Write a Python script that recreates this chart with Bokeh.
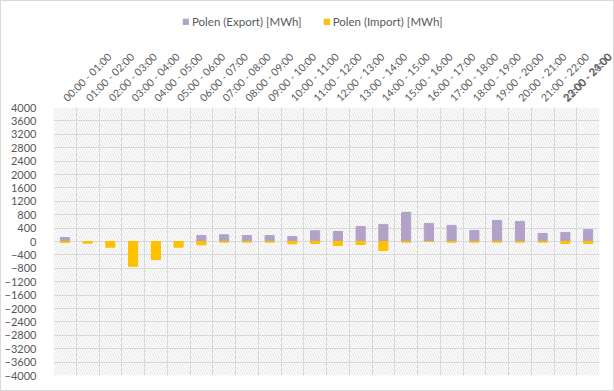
import math
from bokeh.plotting import figure
from bokeh.layouts import column
from bokeh.models import (ColumnDataSource, Range1d, FixedTicker, BoxAnnotation,
                          Legend, LegendItem)
from bokeh.embed import file_html
from bokeh.resources import INLINE

hours = ["00:00 - 01:00", "01:00 - 02:00", "02:00 - 03:00", "03:00 - 04:00",
         "04:00 - 05:00", "05:00 - 06:00", "06:00 - 07:00", "07:00 - 08:00",
         "08:00 - 09:00", "09:00 - 10:00", "10:00 - 11:00", "11:00 - 12:00",
         "12:00 - 13:00", "13:00 - 14:00", "14:00 - 15:00", "15:00 - 16:00",
         "16:00 - 17:00", "17:00 - 18:00", "18:00 - 19:00", "19:00 - 20:00",
         "20:00 - 21:00", "21:00 - 22:00", "22:00 - 23:00", "23:00 - 24:00"]
export_mwh = [120, 0, 0, 0, 0, 0, 180, 200, 180, 180, 150, 320,
              300, 450, 510, 870, 540, 480, 330, 630, 600, 240, 270, 360]
import_mwh = [-30, -50, -170, -740, -540, -170, -100, -20, -20, -20, -70, -60,
              -120, -90, -270, -20, 0, -20, -20, -20, -20, -20, -60, -60]
y_ticks = list(range(-4000, 4001, 400))
series_names = ["Polen (Export) [MWh]", "Polen (Import) [MWh]"]
series_colors = ["#B3A2C7", "#FFC000"]

FONT = "Lato"
GREY = "#595959"
W = 612
LEG_H = 39
MAIN_H = 350

pos = [i + 0.5 for i in range(len(hours))]
src = ColumnDataSource(dict(x=pos, exp=export_mwh, imp=import_mwh))

# ---- legend strip (own small figure so the legend is not clipped by the plot frame)
leg = figure(width=W, height=LEG_H, output_backend="svg", toolbar_location=None,
             x_range=Range1d(0, 1), y_range=Range1d(0, 1),
             x_axis_location=None, y_axis_location=None, min_border=0)
leg.outline_line_color = None
leg.grid.visible = False
l_exp = leg.vbar(x="x", top="exp", width=0.4, source=src, color=series_colors[0],
                 visible=False)
l_imp = leg.vbar(x="x", top="imp", width=0.4, source=src, color=series_colors[1],
                 visible=False)
legend = Legend(items=[LegendItem(label=series_names[0], renderers=[l_exp]),
                       LegendItem(label=series_names[1], renderers=[l_imp])],
                orientation="horizontal", location=(129, 12),
                label_text_font=FONT, label_text_font_size="11.5px",
                label_text_color=GREY, glyph_width=7, glyph_height=7,
                label_standoff=3, spacing=21, padding=0, margin=0,
                inactive_fill_alpha=0, click_policy="none",
                border_line_color=None, background_fill_alpha=0)
leg.add_layout(legend, "center")

# ---- main chart
p = figure(width=W, height=MAIN_H, output_backend="svg", toolbar_location=None,
           x_range=Range1d(0, len(hours)), y_range=Range1d(-4000, 4000),
           x_axis_location="above", min_border_left=49, min_border_right=14,
           min_border_top=67, min_border_bottom=15)
p.outline_line_color = None

hatch = BoxAnnotation(fill_alpha=0, line_color=None, hatch_pattern="\\",
                      hatch_color="#dddddd", hatch_scale=5, hatch_weight=0.8,
                      level="image")
p.add_layout(hatch)

p.vbar(x="x", top="exp", width=0.4, source=src, color=series_colors[0])
p.vbar(x="x", top="imp", width=0.4, source=src, color=series_colors[1])

p.xaxis.ticker = FixedTicker(ticks=pos)
p.xaxis.major_label_overrides = {x: h for x, h in zip(pos, hours)}
p.xaxis.major_label_orientation = math.pi / 4
p.yaxis.ticker = FixedTicker(ticks=y_ticks)
for ax in (p.xaxis, p.yaxis):
    ax.axis_line_color = None
    ax.major_tick_line_color = None
    ax.minor_tick_line_color = None
    ax.major_label_text_font = FONT
    ax.major_label_text_color = GREY
p.yaxis.major_label_text_font_size = "11px"
p.xaxis.major_label_text_font_size = "10.5px"
p.yaxis.major_label_standoff = 11
p.xaxis.major_label_standoff = 2

p.xgrid.ticker = FixedTicker(ticks=list(range(len(hours) + 1)))
p.ygrid.ticker = FixedTicker(ticks=y_ticks)
for g in (p.xgrid, p.ygrid):
    g.grid_line_color = "#d9d9d9"
    g.grid_line_width = 1

layout = column(leg, p, spacing=0,
                styles={"border": "1px solid #d9d9d9", "background": "white"})
open("out.html", "w").write(file_html(layout, INLINE))
